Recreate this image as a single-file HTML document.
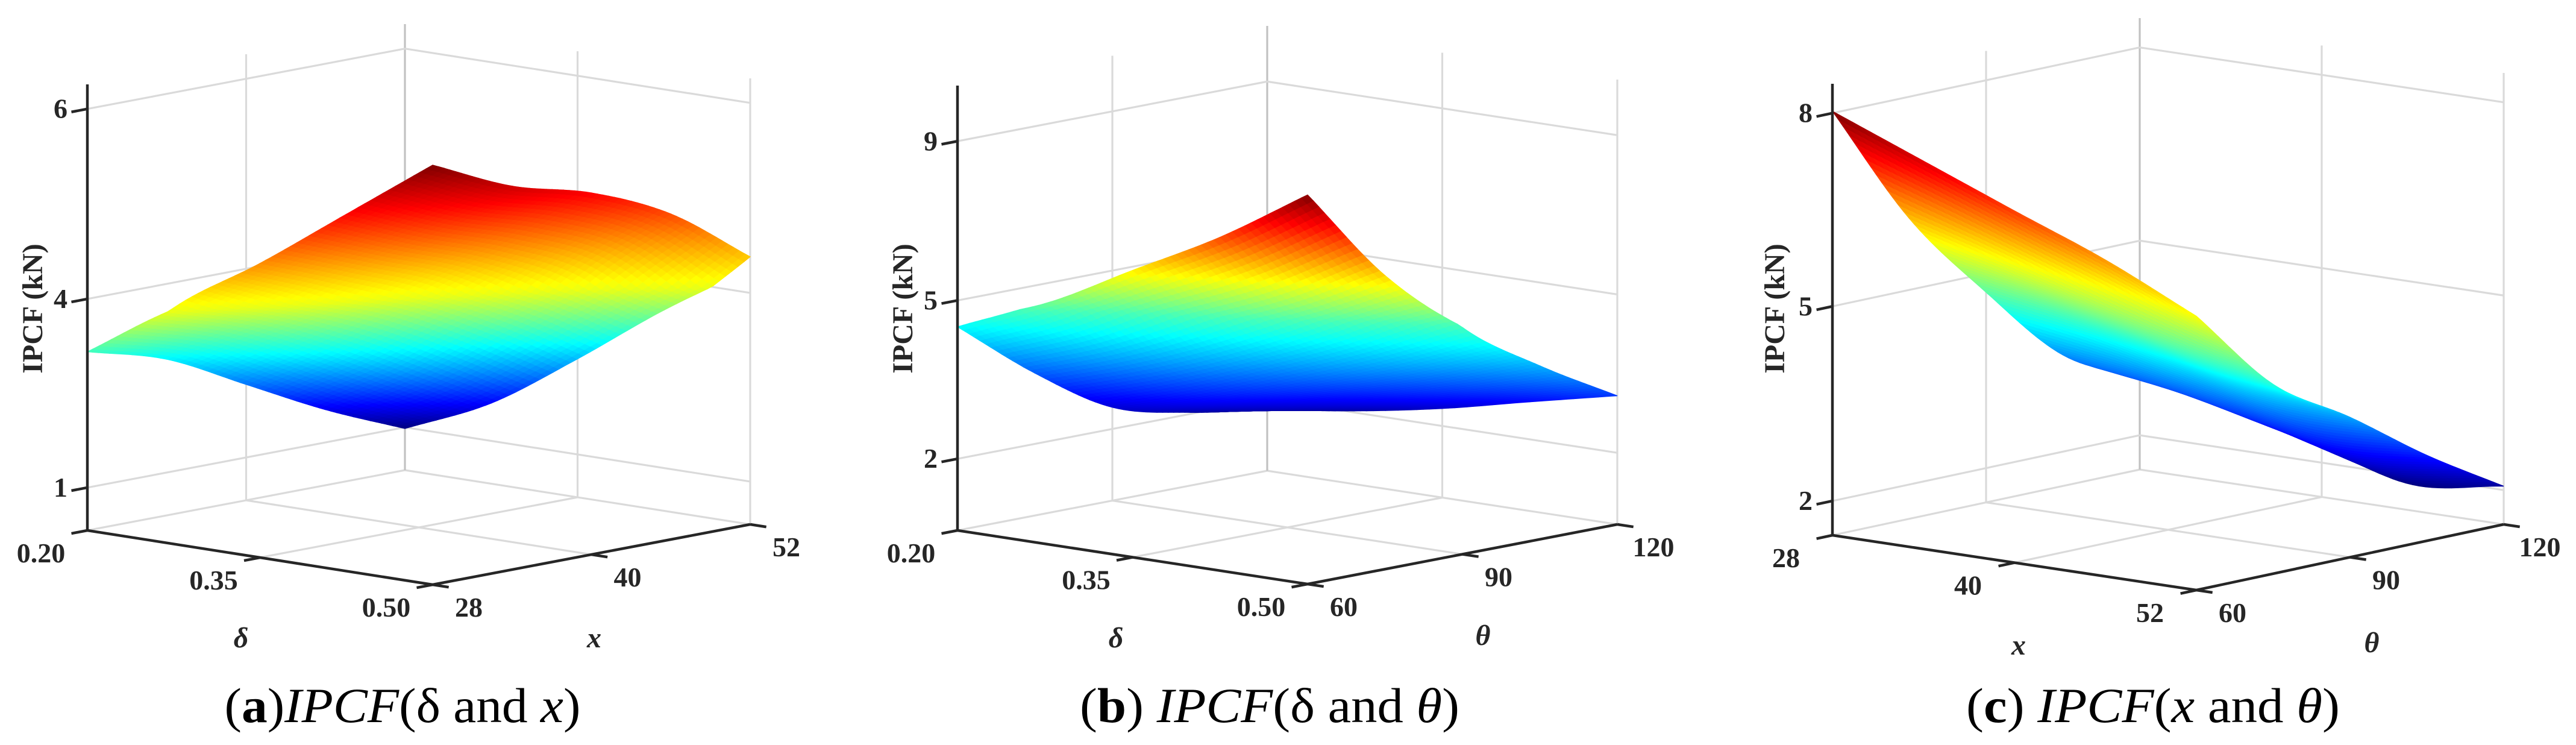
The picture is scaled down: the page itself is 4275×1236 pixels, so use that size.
<!DOCTYPE html>
<html><head><meta charset="utf-8"><style>
html,body{margin:0;padding:0;background:#fff;}
svg{display:block;}
text{font-family:"Liberation Serif",serif;fill:#262626;}
</style></head>
<body>
<svg id="fig" width="4275" height="1236" viewBox="0 0 4275 1236" xmlns="http://www.w3.org/2000/svg">
<g id="pa"></g>
<g id="pb"></g>
<g id="pc"></g>
<text x="668" y="1198" font-size="82" text-anchor="middle" textLength="591" lengthAdjust="spacingAndGlyphs" style="fill:#000">(<tspan font-weight="bold">a</tspan>)<tspan font-style="italic">IPCF</tspan>(δ and <tspan font-style="italic">x</tspan>)</text>
<text x="2107" y="1198" font-size="82" text-anchor="middle" textLength="630" lengthAdjust="spacingAndGlyphs" style="fill:#000">(<tspan font-weight="bold">b</tspan>) <tspan font-style="italic">IPCF</tspan>(δ and <tspan font-style="italic">θ</tspan>)</text>
<text x="3573" y="1198" font-size="82" text-anchor="middle" textLength="620" lengthAdjust="spacingAndGlyphs" style="fill:#000">(<tspan font-weight="bold">c</tspan>) <tspan font-style="italic">IPCF</tspan>(<tspan font-style="italic">x</tspan> and <tspan font-style="italic">θ</tspan>)</text>
</svg>
<script>
// ---------- data ----------
// panel a: rows = delta, cols = x
const aDelta=[0.20,0.275,0.35,0.425,0.50];
const aX=[28,34,40,46,52];
const aZ=[[3.16,2.80,2.16,1.52,0.98],[4.05,3.61,2.99,2.30,1.60],[4.66,4.33,3.95,3.30,2.52],[5.32,4.96,4.66,4.25,3.51],[5.98,5.60,5.37,4.99,4.38]];
const aUTicks=[0.20,0.35,0.50];
const aUTickLabels=["0.20","0.35","0.50"];
const aVTicks=[28,40,52];
const aVTickLabels=["28","40","52"];
const aZTicks=[1,4,6];
const aZTickLabels=["1","4","6"];
// panel b: rows = delta, cols = theta
const bDelta=[0.20,0.275,0.35,0.425,0.50];
const bTheta=[60,75,90,105,120];
const bZ=[[4.50,3.34,2.41,2.03,1.80],[5.26,3.90,2.92,2.40,2.03],[6.43,4.61,3.53,2.86,2.33],[7.60,5.47,4.18,3.37,2.71],[9.00,6.60,4.94,3.93,3.08]];
const bUTicks=[0.20,0.35,0.50];
const bUTickLabels=["0.20","0.35","0.50"];
const bVTicks=[60,90,120];
const bVTickLabels=["60","90","120"];
const bZTicks=[2,5,9];
const bZTickLabels=["2","5","9"];
// panel c: rows = x, cols = theta
const cX=[28,34,40,46,52];
const cTheta=[60,75,90,105,120];
const cZ=[[8.03,6.11,4.71,3.49,2.89],[7.47,5.70,4.44,3.29,2.64],[6.91,5.24,4.09,2.99,2.25],[6.36,4.78,3.74,2.70,1.87],[5.70,4.39,3.63,2.79,2.06]];
const cUTicks=[28,40,52];
const cUTickLabels=["28","40","52"];
const cVTicks=[60,90,120];
const cVTickLabels=["60","90","120"];
const cZTicks=[2,5,8];
const cZTickLabels=["2","5","8"];

const NS="http://www.w3.org/2000/svg";
function mk(parent,tag,attrs){const e=document.createElementNS(NS,tag);for(const k in attrs)e.setAttribute(k,attrs[k]);parent.appendChild(e);return e;}
function clamp(t){return Math.max(0,Math.min(1,t));}
function jet(t){const r=clamp(1.5-Math.abs(4*t-3)),g=clamp(1.5-Math.abs(4*t-2)),b=clamp(1.5-Math.abs(4*t-1));return `rgb(${Math.round(r*255)},${Math.round(g*255)},${Math.round(b*255)})`;}
function cr(p0,p1,p2,p3,t){return 0.5*((2*p1)+(-p0+p2)*t+(2*p0-5*p1+4*p2-p3)*t*t+(-p0+3*p1-3*p2+p3)*t*t*t);}

function drawPanel(g,cfg){
  const A=cfg.A,B=cfg.B,C=cfg.C,H=cfg.H;
  const uS=d=>(d-cfg.uDom[0])/(cfg.uDom[1]-cfg.uDom[0]);
  const vS=d=>(d-cfg.vDom[0])/(cfg.vDom[1]-cfg.vDom[0]);
  const zt=cfg.zTicks,zf=cfg.zFrac;
  const wS=z=>{let i=0;if(z>zt[1])i=1;return zf[i]+(z-zt[i])*(zf[i+1]-zf[i])/(zt[i+1]-zt[i]);};
  const P=(u,v,w)=>[A[0]+u*(B[0]-A[0])+v*(C[0]-B[0]),A[1]+u*(B[1]-A[1])+v*(C[1]-B[1])-w*H];
  const line=(p,q,st,sw,name)=>{const l=mk(g,'line',{x1:p[0],y1:p[1],x2:q[0],y2:q[1],stroke:st,'stroke-width':sw});
    
    };
  const grid='#dadada',gw=3.2;
  line(P(0,0,0),P(0,1,0),grid,gw,'floor-edge');
  line(P(0,1,0),P(1,1,0),grid,gw,'floor-edge');
  cfg.uTicks.slice(1,-1).forEach(t=>{const u=uS(t);line(P(u,0,0),P(u,1,0),grid,gw,'floor-grid-line');line(P(u,1,0),P(u,1,1),grid,gw,'wall-grid-line');});
  cfg.vTicks.slice(1,-1).forEach(t=>{const v=vS(t);line(P(0,v,0),P(1,v,0),grid,gw,'floor-grid-line');line(P(0,v,0),P(0,v,1),grid,gw,'wall-grid-line');});
  line(P(0,1,0),P(0,1,1),'#c2c2c2',gw,'back-corner-line');
  line(P(1,1,0),P(1,1,1),grid,gw,'wall-edge-line');
  zt.forEach(z=>{const w=wS(z);line(P(0,0,w),P(0,1,w),grid,gw,'z-grid-line');line(P(0,1,w),P(1,1,w),grid,gw,'z-grid-line');});
  // surface
  const Z=cfg.Z,uA=cfg.uArr,vA=cfg.vArr;
  let zmin=Infinity,zmax=-Infinity;Z.forEach(r=>r.forEach(z=>{zmin=Math.min(zmin,z);zmax=Math.max(zmax,z);}));
  const nu=uA.length-1,nv=vA.length-1,S=14;
  const ZZ=(i,j)=>{ // extended grid with linear extrapolation
    const ci=Math.max(0,Math.min(nu,i)),cj=Math.max(0,Math.min(nv,j));
    let val=Z[ci][cj];
    if(i<0)val+=(Z[0][cj]-Z[1][cj]);if(i>nu)val+=(Z[nu][cj]-Z[nu-1][cj]);
    if(j<0)val+=(Z[ci][0]-Z[ci][1]);if(j>nv)val+=(Z[ci][nv]-Z[ci][nv-1]);
    return val;};
  function zAt(fu,fv){
    const i=Math.min(nu-1,Math.floor(fu)),j=Math.min(nv-1,Math.floor(fv));const a=fu-i,b=fv-j;
    const rows=[];for(let di=-1;di<=2;di++){rows.push(cr(ZZ(i+di,j-1),ZZ(i+di,j),ZZ(i+di,j+1),ZZ(i+di,j+2),b));}
    return cr(rows[0],rows[1],rows[2],rows[3],a);}
  function uAt(fu){const i=Math.min(nu-1,Math.floor(fu));const a=fu-i;return uS(uA[i]*(1-a)+uA[i+1]*a);}
  function vAt(fv){const j=Math.min(nv-1,Math.floor(fv));const a=fv-j;return vS(vA[j]*(1-a)+vA[j+1]*a);}
  const quads=[];
  for(let i=0;i<nu*S;i++)for(let j=0;j<nv*S;j++){
    const cs=[[i,j],[i+1,j],[i+1,j+1],[i,j+1]].map(([a,b])=>{const fu=a/S,fv=b/S;const z=zAt(fu,fv);return {p:P(uAt(fu),vAt(fv),wS(z)),z};});
    const zm=(cs[0].z+cs[1].z+cs[2].z+cs[3].z)/4;
    const back=(1-(i+.5)/(nu*S))+(j+.5)/(nv*S);
    quads.push({cs,zm,back});
  }
  quads.sort((a,b)=>b.back-a.back);
  const sg=mk(g,'g',{});
  
  
  quads.forEach(q=>{const col=jet(clamp((q.zm-zmin)/(zmax-zmin)));
    const pg=mk(sg,'polygon',{points:q.cs.map(c=>c.p[0].toFixed(1)+','+c.p[1].toFixed(1)).join(' '),fill:col,stroke:col,'stroke-width':1.2});
    
    });
  // axes
  const ax='#262626',aw=4.5;
  line(P(0,0,0),P(0,0,1),ax,aw,'z-axis');
  line(P(0,0,0),P(1,0,0),ax,aw,'u-axis');
  line(P(1,0,0),P(1,1,0),ax,aw,'v-axis');
  const cbx=C[0]-B[0],cby=C[1]-B[1],cl=Math.hypot(cbx,cby);const du=[-cbx/cl*27,-cby/cl*27];
  const bax=B[0]-A[0],bay=B[1]-A[1],bl=Math.hypot(bax,bay);const dv=[bax/bl*27,bay/bl*27];
  zt.forEach((z,k)=>{const p=P(0,0,wS(z));line(p,[p[0]+du[0],p[1]+du[1]],ax,aw,'z-tick');
    const t=mk(g,'text',{x:p[0]-33,y:p[1]+15,'font-size':46,'font-weight':'bold','text-anchor':'end'});t.textContent=cfg.zLabels[k];
    
    });
  cfg.uTicks.forEach((d,k)=>{const p=P(uS(d),0,0);line(p,[p[0]+du[0],p[1]+du[1]],ax,aw,'u-tick');
    const t=mk(g,'text',{x:p[0]-77,y:p[1]+53,'font-size':46,'font-weight':'bold','text-anchor':'middle'});t.textContent=cfg.uLabels[k];
    
    });
  cfg.vTicks.forEach((d,k)=>{const p=P(1,vS(d),0);line(p,[p[0]+dv[0],p[1]+dv[1]],ax,aw,'v-tick');
    const t=mk(g,'text',{x:p[0]+60,y:p[1]+53,'font-size':46,'font-weight':'bold','text-anchor':'middle'});t.textContent=cfg.vLabels[k];
    
    });
  const ul=mk(g,'text',{x:cfg.uName[1],y:cfg.uName[2],'font-size':48,'font-weight':'bold','font-style':'italic','text-anchor':'middle'});ul.textContent=cfg.uName[0];
  
  
  const vl=mk(g,'text',{x:cfg.vName[1],y:cfg.vName[2],'font-size':48,'font-weight':'bold','font-style':'italic','text-anchor':'middle'});vl.textContent=cfg.vName[0];
  
  
  const yl=mk(g,'text',{x:0,y:0,'font-size':48,'font-weight':'bold','text-anchor':'middle',transform:`translate(${cfg.yName[0]},${cfg.yName[1]}) rotate(-90)`});yl.textContent='IPCF (kN)';
  
  
}

drawPanel(document.getElementById('pa'),{A:[145,880],B:[718,970],C:[1245,870],H:740,uDom:[0.20,0.50],vDom:[28,52],
  zTicks:aZTicks,zFrac:[0.096,0.519,0.945],zLabels:aZTickLabels,uTicks:aUTicks,uLabels:aUTickLabels,vTicks:aVTicks,vLabels:aVTickLabels,
  Z:aZ,uArr:aDelta,vArr:aX,uName:['δ',400,1074],vName:['x',986,1074],yName:[70,512]});
drawPanel(document.getElementById('pb'),{A:[1589,880],B:[2170,969],C:[2684,870],H:738,uDom:[0.20,0.50],vDom:[60,120],
  zTicks:bZTicks,zFrac:[0.161,0.517,0.875],zLabels:bZTickLabels,uTicks:bUTicks,uLabels:bUTickLabels,vTicks:bVTicks,vLabels:bVTickLabels,
  Z:bZ,uArr:bDelta,vArr:bTheta,uName:['δ',1852,1074],vName:['θ',2461,1070],yName:[1514,512]});
drawPanel(document.getElementById('pc'),{A:[3041,888],B:[3645,979],C:[4155,870],H:749,uDom:[28,52],vDom:[60,120],
  zTicks:cZTicks,zFrac:[0.076,0.507,0.935],zLabels:cZTickLabels,uTicks:cUTicks,uLabels:cUTickLabels,vTicks:cVTicks,vLabels:cVTickLabels,
  Z:cZ,uArr:cX,vArr:cTheta,uName:['x',3350,1086],vName:['θ',3936,1082],yName:[2961,512]});
</script>
</body></html>
